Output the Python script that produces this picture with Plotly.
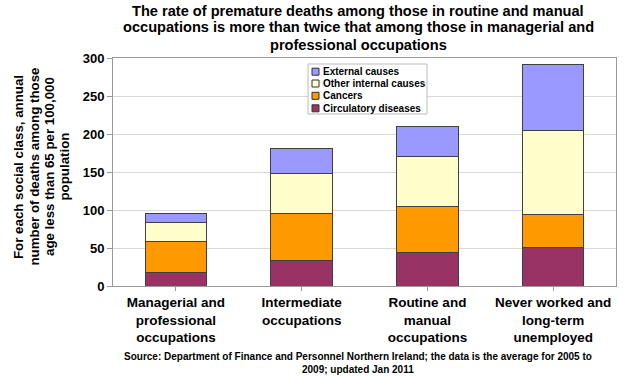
import plotly.graph_objects as go

categories = ["Managerial and<br>professional<br>occupations",
              "Intermediate<br>occupations",
              "Routine and<br>manual<br>occupations",
              "Never worked and<br>long-term<br>unemployed"]
circulatory = [18, 33, 44, 51]
cancers = [40, 63, 61, 43]
other_internal = [25, 52, 65, 110]
external = [13, 33, 40, 88]

title_lines = ["The rate of premature deaths among those in routine and manual",
               "occupations is more than twice that among those in managerial and",
               "professional occupations"]
ytitle_lines = ["For each social class, annual",
                "number of deaths among those",
                "age less than 65 per 100,000",
                "population"]
source_lines = ["Source: Department of Finance and Personnel Northern Ireland; the data is the average for 2005 to",
                "2009; updated Jan 2011"]

series = [
    ("Circulatory diseases", circulatory, "#993366"),
    ("Cancers", cancers, "#FF9900"),
    ("Other internal causes", other_internal, "#FFFFCC"),
    ("External causes", external, "#9999FF"),
]

W, H = 624, 377
L, R, T, B = 113, 8, 58, 91
PW, PH = W - L - R, H - T - B


def px(x):
    return (x - L) / PW


def py(y):
    return (H - B - y) / PH


FONT = "Liberation Sans, Arial, sans-serif"

fig = go.Figure()
for name, vals, col in series:
    fig.add_trace(go.Bar(
        x=list(range(len(categories))), y=vals, name=name,
        marker=dict(color=col, line=dict(color="#404040", width=1)),
        showlegend=False,
    ))

fig.update_layout(
    width=W, height=H,
    margin=dict(l=L, r=R, t=T, b=B, autoexpand=False),
    barmode="stack", bargap=0.51,
    plot_bgcolor="white", paper_bgcolor="white",
    font=dict(family=FONT, color="black"),
    xaxis=dict(
        tickmode="array", tickvals=list(range(len(categories))),
        ticktext=["<b>%s</b>" % c.replace("<br>", "</b><br><b>") for c in categories],
        tickfont=dict(size=13.5), range=[-0.5, 3.5],
        showline=True, linecolor="#999999", mirror=True,
        ticks="outside", ticklen=4, tickcolor="#999999",
        showgrid=False, tickson="boundaries",
    ),
    yaxis=dict(
        range=[0, 300], dtick=50,
        tickfont=dict(size=13), tickprefix="<b>", ticksuffix="</b>",
        showline=True, linecolor="#999999", mirror=True,
        ticks="outside", ticklen=5, tickcolor="#999999",
        gridcolor="#d9d9d9", zeroline=False,
    ),
)

ann = []
for line, yc in zip(title_lines, [10.5, 27.5, 44.5]):
    ann.append(dict(text="<b>%s</b>" % line, x=px(358), y=py(yc),
                    xref="paper", yref="paper", xanchor="center", yanchor="middle",
                    showarrow=False, font=dict(size=14.6, family=FONT)))
for line, xc in zip(ytitle_lines, [18, 33.5, 49, 63.5]):
    ann.append(dict(text="<b>%s</b>" % line, x=px(xc), y=py(167),
                    xref="paper", yref="paper", xanchor="center", yanchor="middle",
                    textangle=-90, showarrow=False, font=dict(size=13.3, family=FONT)))
for line, yc in zip(source_lines, [356, 369]):
    ann.append(dict(text="<b>%s</b>" % line, x=px(358), y=py(yc),
                    xref="paper", yref="paper", xanchor="center", yanchor="middle",
                    showarrow=False, font=dict(size=10, family=FONT)))

# compact legend drawn in the plot area
shapes = [dict(type="rect", xref="paper", yref="paper",
               x0=px(308), x1=px(427), y0=py(114), y1=py(64),
               line=dict(color="#bbbbbb", width=1), fillcolor="white", layer="above")]
rows = [71.7, 83.5, 95.8, 108.3]
for (name, vals, col), yc in zip(reversed(series), rows):
    shapes.append(dict(type="rect", xref="paper", yref="paper",
                       x0=px(312), x1=px(319), y0=py(yc + 3.5), y1=py(yc - 3.5),
                       line=dict(color="#333333", width=1), fillcolor=col, layer="above"))
    ann.append(dict(text="<b>%s</b>" % name, x=px(320.5), y=py(yc),
                    xref="paper", yref="paper", xanchor="left", yanchor="middle",
                    showarrow=False, font=dict(size=10, family=FONT)))

fig.update_layout(annotations=ann, shapes=shapes)
fig.write_html("out.html",
               config={"displayModeBar": False},
               post_script="document.body.style.margin='0';document.body.style.overflow='hidden';")
